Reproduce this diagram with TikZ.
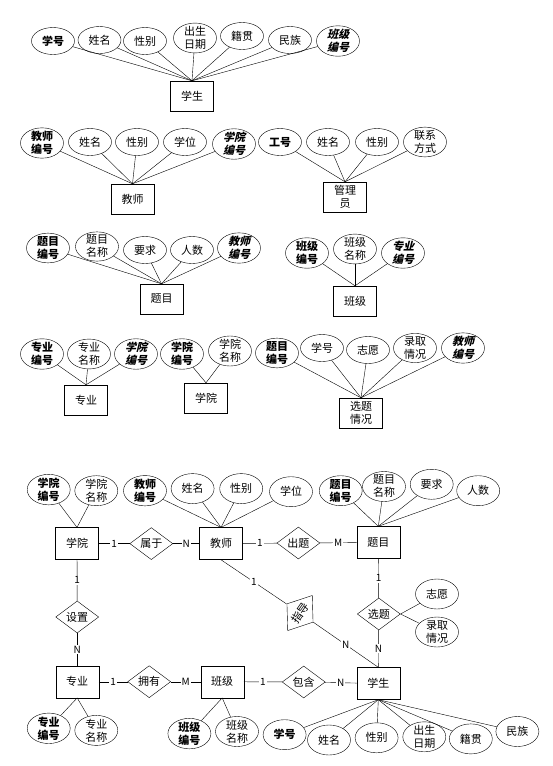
\documentclass[tikz,border=0pt]{standalone}
\usepackage{fontspec}
\setmainfont{Noto Sans CJK SC}
\newfontfamily\fkfont{Noto Sans CJK SC}[FakeSlant=0.25]
\usetikzlibrary{shapes.geometric}

\begin{document}
\begin{tikzpicture}[
            x=1pt, y=-1pt,
            box/.style={
                draw,
                minimum width=43pt,
                minimum height=30pt,
                inner sep=0pt,
                align=center,
                font=\fontsize{11}{13}\selectfont
            },
            attr/.style={
                draw,
                ellipse,
                minimum width=43pt,
                minimum height=27pt,
                inner sep=-1pt,
                align=center,
                font=\fontsize{11}{13}\selectfont
            },
            pkey/.style={attr, font=\fontsize{11}{13}\selectfont\bfseries},
            fkey/.style={attr, font=\fontsize{11}{13}\selectfont\fkfont\bfseries},
            rel/.style={
                draw,
                diamond,
                aspect=1.35,
                minimum width=43pt,
                minimum height=32pt,
                inner sep=0pt,
                font=\fontsize{11}{13}\selectfont
            },
            lbl/.style={fill=white, inner sep=1pt, font=\fontsize{10}{12}\selectfont}
        ]
        \useasboundingbox (0,0) rectangle (553,766);

        % student
        \node[box] (stuA) at (192,96) {学生};
        \node[pkey] (s1) at (53,41) {学号};
        \node[attr] (s2) at (99.5,40) {姓名};
        \node[attr] (s3) at (145,41) {性别};
        \node[attr] (s4) at (195,38) {出生\\日期};
        \node[attr] (s5) at (242,36) {籍贯};
        \node[attr] (s6) at (290,40) {民族};
        \node[fkey] (s7) at (338,41) {班级\\编号};
        \foreach \a in {s1,s2,s3,s4,s5,s6,s7}
            \draw (\a) -- (stuA.north);

        % teacher
        \node[box] (teaA) at (132.5,199) {教师};
        \node[pkey] (t1) at (42,143) {教师\\编号};
        \node[attr] (t2) at (90,142) {姓名};
        \node[attr] (t3) at (137,142) {性别};
        \node[attr] (t4) at (185,142) {学位};
        \node[fkey] (t5) at (234,144) {学院\\编号};
        \foreach \a in {t1,t2,t3,t4,t5}
            \draw (\a) -- (teaA.north);

        % admin
        \node[box] (admA) at (345,197) {管理\\员};
        \node[pkey] (m1) at (280,142) {工号};
        \node[attr] (m2) at (328,142) {姓名};
        \node[attr] (m3) at (377,142) {性别};
        \node[attr] (m4) at (425,142) {联系\\方式};
        \foreach \a in {m1,m2,m3,m4}
            \draw (\a) -- (admA.north);

        % topic
        \node[box] (topA) at (161.5,299) {题目};
        \node[pkey] (q1) at (48,248) {题目\\编号};
        \node[attr] (q2) at (97,246.5) {题目\\名称};
        \node[attr] (q3) at (145,250) {要求};
        \node[attr] (q4) at (192,250) {人数};
        \node[fkey] (q5) at (239,248) {教师\\编号};
        \foreach \a in {q1,q2,q3,q4,q5}
            \draw (\a) -- (topA.north);

        % class
        \node[box] (clsA) at (355,301) {班级};
        \node[pkey] (c1) at (307,253) {班级\\编号};
        \node[attr] (c2) at (355,249) {班级\\名称};
        \node[fkey] (c3) at (403,253) {专业\\编号};
        \foreach \a in {c1,c2,c3}
            \draw (\a) -- (clsA.north);

        % major
        \node[box] (majA) at (86,400) {专业};
        \node[pkey] (z1) at (42,354) {专业\\编号};
        \node[attr] (z2) at (89,354) {专业\\名称};
        \node[fkey] (z3) at (136,354) {学院\\编号};
        \foreach \a in {z1,z2,z3}
            \draw (\a) -- (majA.north);

        % college
        \node[box] (colA) at (206,398) {学院};
        \node[pkey] (y1) at (182,354) {学院\\编号};
        \node[attr] (y2) at (230,351) {学院\\名称};
        \foreach \a in {y1,y2}
            \draw (\a) -- (colA.north);

        % selection
        \node[box] (selA) at (361,413) {选题\\情况};
        \node[pkey] (x1) at (277,353) {题目\\编号};
        \node[attr] (x2) at (322,348) {学号};
        \node[attr] (x3) at (368,350) {志愿};
        \node[attr] (x4) at (415,348) {录取\\情况};
        \node[fkey] (x5) at (463,348) {教师\\编号};
        \foreach \a in {x1,x2,x3,x4,x5}
            \draw (\a) -- (selA.north);

        % E-R diagram
        \node[box, minimum height=32pt] (coll) at (77,543.6) {学院};
        \node[rel] (belong) at (151.3,543.6) {属于};
        \node[box, minimum height=32pt] (teach) at (221,543.6) {教师};
        \node[rel] (give) at (298.4,543) {出题};
        \node[box, minimum height=32pt] (topic) at (378.3,542.5) {题目};

        \node[rel] (setup) at (77.2,617) {设置};
        \node[rel, rotate=55] (guide) at (300,613) {指导};
        \node[rel] (choose) at (378.8,614) {选题};

        \node[box, minimum height=32pt] (major) at (77.2,681.7) {专业};
        \node[rel] (own) at (149.2,681.7) {拥有};
        \node[box, minimum height=32pt] (cls) at (222.2,681.7) {班级};
        \node[rel] (contain) at (303.7,682) {包含};
        \node[box, minimum height=32pt] (stu) at (378.3,683.5) {学生};

        \node[pkey, minimum height=30pt] (ca1) at (48.7,489.6) {学院\\编号};
        \node[attr, minimum height=30pt] (ca2) at (96.3,490.7) {学院\\名称};
        \node[pkey, minimum height=30pt] (ta1) at (145,490.7) {教师\\编号};
        \node[attr, minimum height=30pt] (ta2) at (192.6,488.6) {姓名};
        \node[attr, minimum height=30pt] (ta3) at (241.2,488.6) {性别};
        \node[attr, minimum height=30pt] (ta4) at (291,491.7) {学位};
        \node[pkey, minimum height=30pt] (pa1) at (340.7,490.7) {题目\\编号};
        \node[attr, minimum height=30pt] (pa2) at (384,486.5) {题目\\名称};
        \node[attr, minimum height=30pt] (pa3) at (431.7,484.3) {要求};
        \node[attr, minimum height=30pt] (pa4) at (478.2,490.7) {人数};
        \node[attr, minimum height=30pt] (wish) at (437,594) {志愿};
        \node[attr, minimum height=30pt] (admit) at (437,632) {录取\\情况};
        \node[pkey, minimum height=30pt] (ma1) at (48.7,728.3) {专业\\编号};
        \node[attr, minimum height=30pt] (ma2) at (96.3,730.4) {专业\\名称};
        \node[pkey, minimum height=30pt] (la1) at (189.4,733.6) {班级\\编号};
        \node[attr, minimum height=30pt] (la2) at (237,731.5) {班级\\名称};
        \node[pkey, minimum height=30pt] (sa1) at (284.6,734.7) {学号};
        \node[attr, minimum height=30pt] (sa2) at (329,740) {姓名};
        \node[attr, minimum height=30pt] (sa3) at (376.6,737.8) {性别};
        \node[attr, minimum height=30pt] (sa4) at (424.3,736.8) {出生\\日期};
        \node[attr, minimum height=30pt] (sa5) at (470.8,738.9) {籍贯};
        \node[attr, minimum height=30pt] (sa6) at (517.4,731.5) {民族};

        \foreach \a in {ca1,ca2}
            \draw (\a) -- (coll.north);
        \foreach \a in {ta1,ta2,ta3,ta4}
            \draw (\a) -- (teach.north);
        \foreach \a in {pa1,pa2,pa3,pa4}
            \draw (\a) -- (topic.north);
        \foreach \a in {ma1,ma2}
            \draw (major.south) -- (\a);
        \foreach \a in {la1,la2}
            \draw (cls.south) -- (\a);
        \foreach \a in {sa1,sa2,sa3,sa4,sa5,sa6}
            \draw (stu.south) -- (\a);
        \draw (choose.east) -- (wish);
        \draw (choose.east) -- (admit);

        \draw (coll) -- node[lbl] {1} (belong);
        \draw (belong) -- node[lbl] {N} (teach);
        \draw (teach) -- node[lbl] {1} (give);
        \draw (give) -- node[lbl] {M} (topic);
        \draw (coll) -- node[lbl] {1} (setup);
        \draw (setup) -- node[lbl] {N} (major);
        \draw (topic) -- node[lbl] {1} (choose);
        \draw (choose) -- node[lbl] {N} (stu);
        \draw (teach.south) -- node[lbl] {1} (guide);
        \draw (guide) -- node[lbl] {N} (stu.north);
        \draw (major) -- node[lbl] {1} (own);
        \draw (own) -- node[lbl] {M} (cls);
        \draw (cls) -- node[lbl] {1} (contain);
        \draw (contain) -- node[lbl] {N} (stu);
        \end{tikzpicture}
\end{document}
